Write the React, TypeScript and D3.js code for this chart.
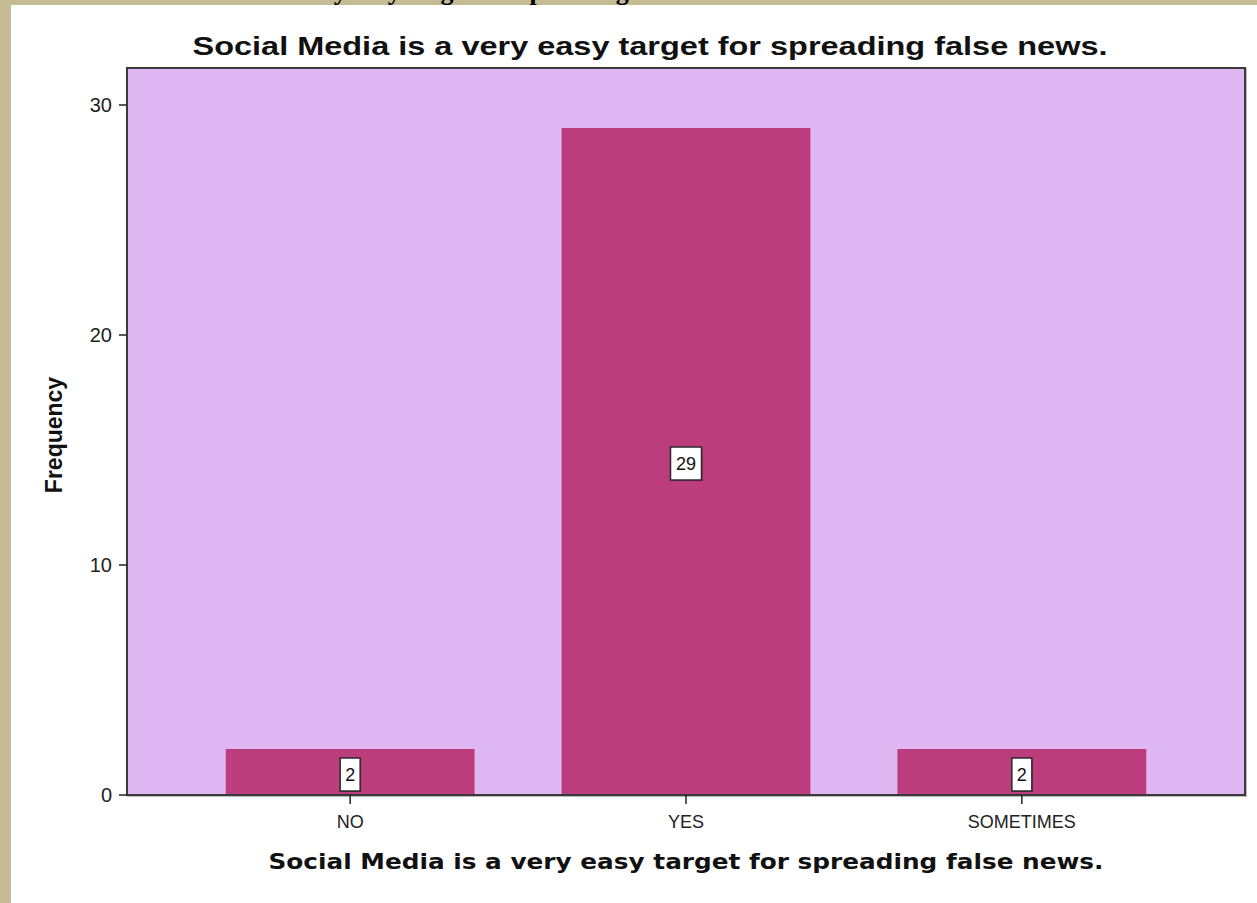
import React from "react";
import * as d3 from "d3";

const categories = ["NO", "YES", "SOMETIMES"];
const frequencies = [2, 29, 2];
const yTicks = [0, 10, 20, 30];
const chartTitle = "Social Media is a very easy target for spreading false news.";
const xTitle = "Social Media is a very easy target for spreading false news.";
const yTitle = "Frequency";
const pageHeading = "Social Media is a very easy target for spreading false news";

const W = 1257;
const H = 903;
const plot = { left: 127, right: 1245, top: 68, bottom: 795 };

export default function App() {
  const x = d3
    .scaleBand<string>()
    .domain(categories)
    .range([plot.left, plot.right])
    .paddingInner(0.259)
    .paddingOuter(0.294);
  const y = d3.scaleLinear().domain([0, 30]).range([plot.bottom, 105]);
  const sans = "'Liberation Sans', Arial, sans-serif";

  return (
    <svg
      width={W}
      height={H}
      style={{ position: "absolute", left: 0, top: 0 }}
      xmlns="http://www.w3.org/2000/svg"
    >
      <rect x={0} y={0} width={W} height={H} fill="#C5BC96" />
      <text
        x={104}
        y={-0.5}
        fontFamily="'Liberation Serif', 'Times New Roman', serif"
        fontWeight="bold"
        fontSize={26}
        fill="#000"
      >
        {pageHeading}
      </text>
      <rect x={11} y={5} width={W - 11} height={H - 5} fill="#FFFFFF" />

      {/* chart title */}
      <text
        x={650}
        y={55}
        textAnchor="middle"
        fontFamily={sans}
        fontWeight="bold"
        fontSize={26}
        textLength={915}
        lengthAdjust="spacingAndGlyphs"
        fill="#111"
      >
        {chartTitle}
      </text>

      {/* plot area shadow + background */}
      <rect
        x={plot.left + 1}
        y={plot.top + 1}
        width={plot.right - plot.left}
        height={plot.bottom - plot.top}
        fill="none"
        stroke="#bbbbbb"
        strokeWidth={2}
      />
      <rect
        x={plot.left}
        y={plot.top}
        width={plot.right - plot.left}
        height={plot.bottom - plot.top}
        fill="#DFB7F2"
      />

      {/* bars */}
      {categories.map((c, i) => (
        <rect
          key={c}
          x={x(c)}
          y={y(frequencies[i])}
          width={x.bandwidth()}
          height={plot.bottom - y(frequencies[i])}
          fill="#BB3D7C"
        />
      ))}

      {/* frame */}
      <rect
        x={plot.left}
        y={plot.top}
        width={plot.right - plot.left}
        height={plot.bottom - plot.top}
        fill="none"
        stroke="#3a3a3a"
        strokeWidth={2}
      />

      {/* y ticks */}
      {yTicks.map((t) => (
        <g key={t}>
          <line x1={plot.left - 8} x2={plot.left} y1={y(t)} y2={y(t)} stroke="#222" strokeWidth={1.5} />
          <text
            x={plot.left - 15}
            y={y(t)}
            dy="0.35em"
            textAnchor="end"
            fontFamily={sans}
            fontSize={20}
            fill="#222"
          >
            {t}
          </text>
        </g>
      ))}

      {/* x ticks */}
      {categories.map((c) => {
        const cx = (x(c) as number) + x.bandwidth() / 2;
        return (
          <g key={c}>
            <line x1={cx} x2={cx} y1={plot.bottom} y2={plot.bottom + 9} stroke="#222" strokeWidth={1.5} />
            <text
              x={cx}
              y={plot.bottom + 33}
              textAnchor="middle"
              fontFamily={sans}
              fontSize={18}
              fill="#222"
            >
              {c}
            </text>
          </g>
        );
      })}

      {/* value labels */}
      {categories.map((c, i) => {
        const cx = (x(c) as number) + x.bandwidth() / 2;
        const v = frequencies[i];
        const label = String(v);
        const bw = label.length * 11 + 9;
        const bh = 33;
        const barTop = y(v);
        const cy = v >= 10 ? (barTop + plot.bottom) / 2 + 2 : plot.bottom - 4 - bh / 2;
        return (
          <g key={c}>
            <rect
              x={cx - bw / 2 + 1}
              y={cy - bh / 2 + 1}
              width={bw}
              height={bh}
              fill="#5a1f3d"
              opacity={0.6}
            />
            <rect
              x={cx - bw / 2}
              y={cy - bh / 2}
              width={bw}
              height={bh}
              fill="#FFFFFF"
              stroke="#2a2a2a"
              strokeWidth={1.5}
            />
            <text
              x={cx}
              y={cy}
              dy="0.36em"
              textAnchor="middle"
              fontFamily={sans}
              fontSize={18}
              fill="#111"
            >
              {label}
            </text>
          </g>
        );
      })}

      {/* axis titles */}
      <text
        x={686}
        y={869}
        textAnchor="middle"
        fontFamily="'DejaVu Sans', Verdana, sans-serif"
        fontWeight="bold"
        fontSize={21}
        textLength={835}
        lengthAdjust="spacingAndGlyphs"
        fill="#111"
      >
        {xTitle}
      </text>
      <text
        transform={`translate(62, 435) rotate(-90)`}
        textAnchor="middle"
        fontFamily={sans}
        fontWeight="bold"
        fontSize={23}
        fill="#111"
      >
        {yTitle}
      </text>
    </svg>
  );
}
